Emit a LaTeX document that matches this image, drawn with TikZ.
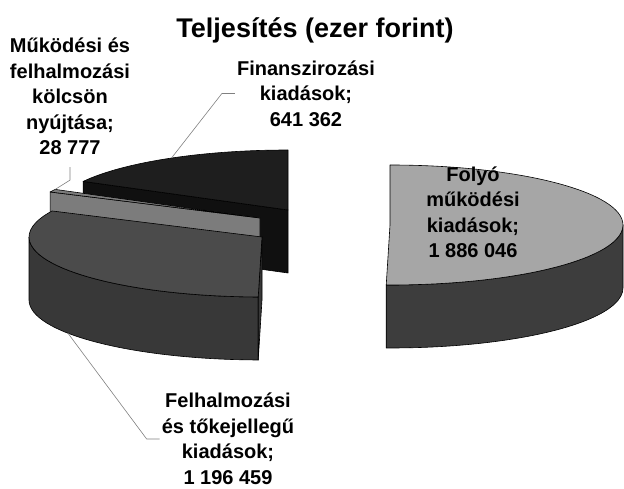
\documentclass[tikz,border=0pt]{standalone}
\usepackage{fontspec}
\setmainfont{Liberation Sans}
\usepackage{tikz}

\definecolor{folytop}{HTML}{A6A6A6}
\definecolor{folywall}{HTML}{3D3D3D}
\definecolor{felhtop}{HTML}{4B4B4B}
\definecolor{felhwall}{HTML}{383838}
\definecolor{kolcgray}{HTML}{7C7C7C}
\definecolor{fintop}{HTML}{1E1E1E}
\definecolor{finside}{HTML}{101010}

\begin{document}
\begin{tikzpicture}[x=1pt,y=1pt,
    rim/.style={x radius=233pt,y radius=60pt},
    face/.style={draw=black,line width=0.6pt,line join=round},
    lead/.style={draw=gray,line width=0.6pt},
    lbl/.style={align=center,inner sep=2pt,font=\fontsize{20}{25.5}\selectfont\bfseries}]
    \useasboundingbox (0,0) rectangle (624,488);

    % slice centres
    \coordinate (cfoly) at (390,263);
    \coordinate (cfelh) at (262,251);
    \coordinate (ckolc) at (260,270);
    \coordinate (cfin) at (288,278);

    % Finanszirozasi
    \filldraw[face,fill=finside] (cfin) -- ++(151.53:233pt and 60pt) -- ++(0,-63) -- ([yshift=-63pt]cfin) -- cycle;
    \filldraw[face,fill=fintop] (cfin) -- ++(90:233pt and 60pt) arc[rim,start angle=90,end angle=151.53] -- cycle;

    % kolcson
    \filldraw[face,fill=kolcgray] (ckolc) -- ++(154.29:233pt and 60pt) -- ++(0,-63) -- ([yshift=-63pt]ckolc) -- cycle;
    \filldraw[face,fill=kolcgray] (ckolc) -- ++(151.53:233pt and 60pt) arc[rim,start angle=151.53,end angle=154.29] -- cycle;

    % felhalmozasi
    \filldraw[face,fill=felhwall] (cfelh) ++(180:233pt and 60pt) arc[rim,start angle=180,end angle=269.07] -- ++(0,-63) arc[rim,start angle=269.07,end angle=180] -- cycle;
    \filldraw[face,fill=felhwall] (cfelh) -- ++(269.07:233pt and 60pt) -- ++(0,-63) -- ([yshift=-63pt]cfelh) -- cycle;
    \filldraw[face,fill=felhtop] (cfelh) -- ++(154.29:233pt and 60pt) arc[rim,start angle=154.29,end angle=269.07] -- cycle;

    % folyo
    \filldraw[face,fill=folywall] (cfoly) ++(0:233pt and 60pt) arc[rim,start angle=0,end angle=-90.93] -- ++(0,-63) arc[rim,start angle=-90.93,end angle=0] -- cycle;
    \filldraw[face,fill=folytop] (cfoly) -- ++(90:233pt and 60pt) arc[rim,start angle=90,end angle=-90.93] -- cycle;

    % leader ends
    \path (cfin) ++(120:233pt and 60pt) coordinate (pfin);
    \path (ckolc) ++(151.53:233pt and 60pt) coordinate (pkolc);
    \path (cfelh) ++(0,-63) ++(213.6:233pt and 60pt) coordinate (pfelh);

    \node (title) at (315,458) {\fontsize{27}{32}\selectfont\bfseries Teljesítés (ezer forint)};
    \node[lbl] (lfoly) at (473,275.5) {Folyó\\működési\\kiadások;\\1 886 046};
    \node[lbl] (lfelh) at (228,49) {Felhalmozási\\és tőkejellegű\\kiadások;\\1 196 459};
    \node[lbl] (lkolc) at (70,391.5) {Működési és\\felhalmozási\\kölcsön\\nyújtása;\\28 777};
    \node[lbl] (lfin) at (306,394.5) {Finanszirozási\\kiadások;\\641 362};

    \draw[lead] (lfin.west) -- ++(-13,0) -- (pfin);
    \draw[lead] (lfelh.west) -- ++(-13,0) -- (pfelh);
    \draw[lead,shorten <=10pt] (lkolc.south) -- ++(0,-23) -- (pkolc);
\end{tikzpicture}
\end{document}
